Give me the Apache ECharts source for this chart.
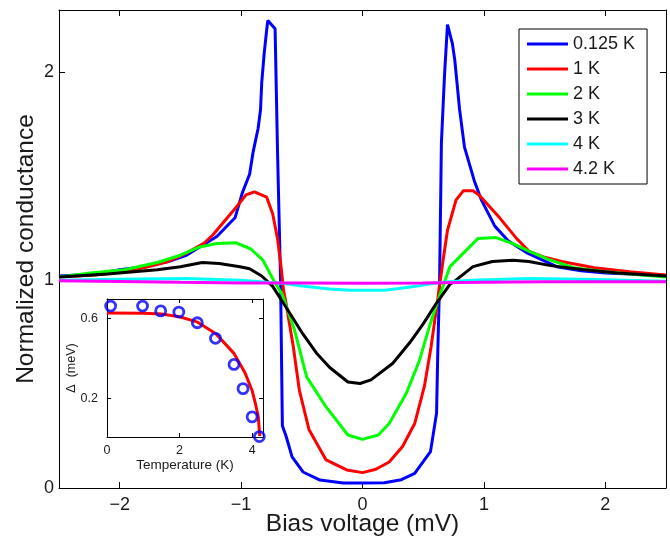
<!DOCTYPE html>
<html><head><meta charset="utf-8">
<script src="https://cdn.jsdelivr.net/npm/echarts@6/dist/echarts.min.js"></script>
<style>html,body{margin:0;padding:0;background:#fff}#c{width:670px;height:539px}</style>
</head><body><div id="c"></div>
<script>
// ---------- data ----------
const seriesNames = ['0.125 K', '1 K', '2 K', '3 K', '4 K', '4.2 K'];

const v0125 = [-2.5,-2.2,-2.0,-1.8,-1.6,-1.45,-1.34,-1.2,-1.1,-1.05,-0.99,-0.93,-0.9,-0.86,-0.84,-0.83,-0.81,-0.79,-0.78,-0.72,-0.70,-0.675,-0.66,-0.63,-0.58,-0.49,-0.35,-0.16,0,0.18,0.32,0.43,0.56,0.61,0.62,0.635,0.65,0.675,0.70,0.74,0.76,0.80,0.84,0.92,0.98,1.09,1.2,1.36,1.6,1.8,2.0,2.2,2.5];
const g0125 = [1.02,1.03,1.05,1.065,1.09,1.12,1.16,1.21,1.27,1.30,1.42,1.51,1.62,1.73,1.82,1.95,2.09,2.2,2.25,2.21,1.62,1.0,0.3,0.25,0.15,0.077,0.038,0.024,0.024,0.025,0.04,0.07,0.175,0.36,0.65,1.0,1.66,1.98,2.23,2.14,2.06,1.82,1.64,1.48,1.385,1.26,1.19,1.13,1.065,1.045,1.035,1.03,1.02];

const v1 = [-2.5,-2.2,-2.0,-1.8,-1.6,-1.45,-1.3,-1.23,-1.07,-0.96,-0.89,-0.79,-0.74,-0.70,-0.67,-0.65,-0.63,-0.57,-0.52,-0.44,-0.30,-0.13,0,0.11,0.22,0.33,0.43,0.51,0.565,0.62,0.66,0.70,0.77,0.83,0.91,0.96,1.13,1.27,1.37,1.5,1.64,1.91,2.2,2.5];
const g1 = [1.015,1.025,1.04,1.06,1.09,1.13,1.18,1.22,1.33,1.41,1.425,1.40,1.32,1.20,1.06,0.95,0.89,0.68,0.47,0.28,0.135,0.087,0.074,0.09,0.125,0.20,0.31,0.49,0.68,0.91,1.08,1.24,1.385,1.43,1.43,1.41,1.30,1.20,1.14,1.11,1.09,1.06,1.04,1.025];

const v2 = [-2.5,-2.24,-1.96,-1.69,-1.5,-1.34,-1.2,-1.04,-0.92,-0.82,-0.74,-0.66,-0.56,-0.46,-0.30,-0.12,0,0.13,0.22,0.36,0.47,0.55,0.62,0.72,0.95,1.10,1.24,1.37,1.53,1.74,2.0,2.2,2.5];
const g2 = [1.015,1.035,1.05,1.085,1.12,1.16,1.176,1.18,1.15,1.096,1.008,0.93,0.76,0.535,0.39,0.255,0.234,0.255,0.31,0.455,0.615,0.775,0.90,1.065,1.20,1.205,1.176,1.14,1.10,1.06,1.04,1.03,1.015];

const v3 = [-2.5,-2.1,-1.69,-1.5,-1.32,-1.18,-1.01,-0.93,-0.83,-0.74,-0.63,-0.49,-0.38,-0.27,-0.12,-0.02,0.07,0.25,0.39,0.50,0.61,0.72,0.77,0.91,1.07,1.24,1.37,1.55,1.83,2.1,2.5];
const g3 = [1.015,1.03,1.05,1.065,1.085,1.08,1.065,1.055,1.02,0.97,0.87,0.74,0.65,0.58,0.51,0.503,0.52,0.60,0.70,0.79,0.89,0.98,1.0,1.065,1.09,1.096,1.09,1.07,1.05,1.035,1.02];

const v4 = [-2.5,-2.0,-1.45,-1.0,-0.79,-0.66,-0.5,-0.27,-0.1,0.18,0.3,0.45,0.59,0.66,0.9,1.37,1.8,2.5];
const g4 = [1.0,1.005,1.008,1.0,0.99,0.985,0.972,0.957,0.952,0.952,0.96,0.972,0.985,0.99,1.0,1.008,1.005,0.995];

const v42 = [-2.5,-1.5,-1.0,-0.5,0,0.5,1.0,1.5,2.0,2.5];
const g42 = [0.997,0.99,0.987,0.986,0.985,0.986,0.99,0.992,0.993,0.992];

// inset: gap vs temperature
const gapT = [0.1,0.98,1.48,1.98,2.49,2.99,3.5,3.75,4.0,4.2];
const gapMeV = [0.66,0.66,0.636,0.63,0.577,0.50,0.37,0.25,0.11,0.012];
const fitT = [0,1.0,1.5,2.0,2.5,3.0,3.5,3.8,4.0,4.1,4.17,4.21];
const fitMeV = [0.625,0.624,0.62,0.607,0.58,0.522,0.425,0.33,0.24,0.17,0.11,0.015];

const mainXTicks = [-2,-1,0,1,2];
const mainYTicks = [0,1,2];
const insetXTicks = [0,2,4];
const insetYTicks = [0.2,0.6];

// ---------- styles ----------
const colors = ['#0000ff','#ff0000','#00ff00','#000000','#00ffff','#ff00ff'];
const txt = '#1a1a1a';
const font = 'Liberation Sans, Arial, Helvetica, sans-serif';
const zip = (a, b) => a.map((x, i) => [x, b[i]]);
const mainData = [zip(v0125,g0125), zip(v1,g1), zip(v2,g2), zip(v3,g3), zip(v4,g4), zip(v42,g42)];
const minus = v => String(v).replace('-', '\u2212');

function axisBase(min, max, ticks, showLabels, extra) {
  return Object.assign({
    type: 'value', min: min, max: max, scale: false,
    nameMoveOverlap: false,
    splitLine: {show: false},
    axisLine: {show: true, onZero: false, lineStyle: {color: '#000', width: 1}},
    axisTick: {show: true, inside: true, length: 6, customValues: ticks, lineStyle: {color: '#000'}},
    axisLabel: {show: showLabels, customValues: ticks, color: txt, fontFamily: font, fontSize: 18, formatter: minus}
  }, extra || {});
}

const chart = echarts.init(document.getElementById('c'), null, {renderer: 'canvas'});
const series = mainData.map((d, i) => ({
  name: seriesNames[i], type: 'line', data: d, xAxisIndex: 0, yAxisIndex: 0,
  showSymbol: false, symbol: 'none', smooth: false,
  lineStyle: {color: colors[i], width: 3}, itemStyle: {color: colors[i]},
  emphasis: {disabled: true}, z: 2
}));
series.push({
  type: 'line', data: zip(fitT, fitMeV), xAxisIndex: 2, yAxisIndex: 2,
  showSymbol: false, symbol: 'none', lineStyle: {color: '#ff0000', width: 3}, z: 5
});
series.push({
  type: 'scatter', data: zip(gapT, gapMeV), xAxisIndex: 2, yAxisIndex: 2,
  symbol: 'circle', symbolSize: 10,
  itemStyle: {color: 'rgba(0,0,0,0)', borderColor: '#0000ff', borderWidth: 2.8}, z: 6
});

chart.setOption({
  animation: false,
  backgroundColor: '#fff',
  textStyle: {fontFamily: font},
  grid: [
    {left: 59, top: 10, right: 4, bottom: 51, containLabel: false, outerBoundsMode: 'none'},
    {left: 107, top: 299, width: 156, height: 138, show: true, backgroundColor: '#fff', borderWidth: 0, z: 4, containLabel: false, outerBoundsMode: 'none'}
  ],
  legend: {
    data: seriesNames, left: 519, top: 29, orient: 'vertical',
    icon: 'rect',
    backgroundColor: '#fff', borderColor: '#000', borderWidth: 1,
    padding: [5, 12, 5, 8], itemGap: 5, itemWidth: 41, itemHeight: 3,
    textStyle: {color: txt, fontFamily: font, fontSize: 18, lineHeight: 20},
    selectedMode: false, z: 10
  },
  xAxis: [
    axisBase(-2.5, 2.5, mainXTicks, true, {gridIndex: 0, position: 'bottom',
      name: 'Bias voltage (mV)', nameLocation: 'middle', nameGap: 24,
      nameTextStyle: {color: txt, fontFamily: font, fontSize: 24.5},
      axisLabel: {show: true, customValues: mainXTicks, color: txt, fontFamily: font, fontSize: 18, margin: 8, formatter: minus}}),
    axisBase(-2.5, 2.5, mainXTicks, false, {gridIndex: 0, position: 'top'}),
    axisBase(0, 4.3, insetXTicks, true, {gridIndex: 1, position: 'bottom', z: 5,
      name: 'Temperature (K)', nameLocation: 'middle', nameGap: 21,
      nameTextStyle: {color: txt, fontFamily: font, fontSize: 13.5},
      axisTick: {show: true, inside: true, length: 4, customValues: insetXTicks, lineStyle: {color: '#000'}},
      axisLabel: {show: true, customValues: insetXTicks, color: txt, fontFamily: font, fontSize: 12.5, margin: 7}}),
    axisBase(0, 4.3, insetXTicks, false, {gridIndex: 1, position: 'top', z: 5,
      axisTick: {show: true, inside: true, length: 4, customValues: insetXTicks, lineStyle: {color: '#000'}}})
  ],
  yAxis: [
    axisBase(0, 2.3, mainYTicks, true, {gridIndex: 0, position: 'left',
      name: 'Normalized conductance', nameLocation: 'middle', nameGap: 20,
      nameTextStyle: {color: txt, fontFamily: font, fontSize: 24.5},
      axisLabel: {show: true, customValues: mainYTicks, color: txt, fontFamily: font, fontSize: 18, margin: 5}}),
    axisBase(0, 2.3, mainYTicks, false, {gridIndex: 0, position: 'right'}),
    axisBase(0.01, 0.695, insetYTicks, true, {gridIndex: 1, position: 'left', z: 5,
      name: '\u0394  (meV)', nameLocation: 'middle', nameGap: 29,
      nameTextStyle: {color: txt, fontFamily: font, fontSize: 12.5},
      axisTick: {show: true, inside: true, length: 4, customValues: insetYTicks, lineStyle: {color: '#000'}},
      axisLabel: {show: true, customValues: insetYTicks, color: txt, fontFamily: font, fontSize: 12.5, margin: 9}}),
    axisBase(0.01, 0.695, insetYTicks, false, {gridIndex: 1, position: 'right', z: 5,
      axisTick: {show: true, inside: true, length: 4, customValues: insetYTicks, lineStyle: {color: '#000'}}})
  ],
  series: series
});
</script>
</body></html>
